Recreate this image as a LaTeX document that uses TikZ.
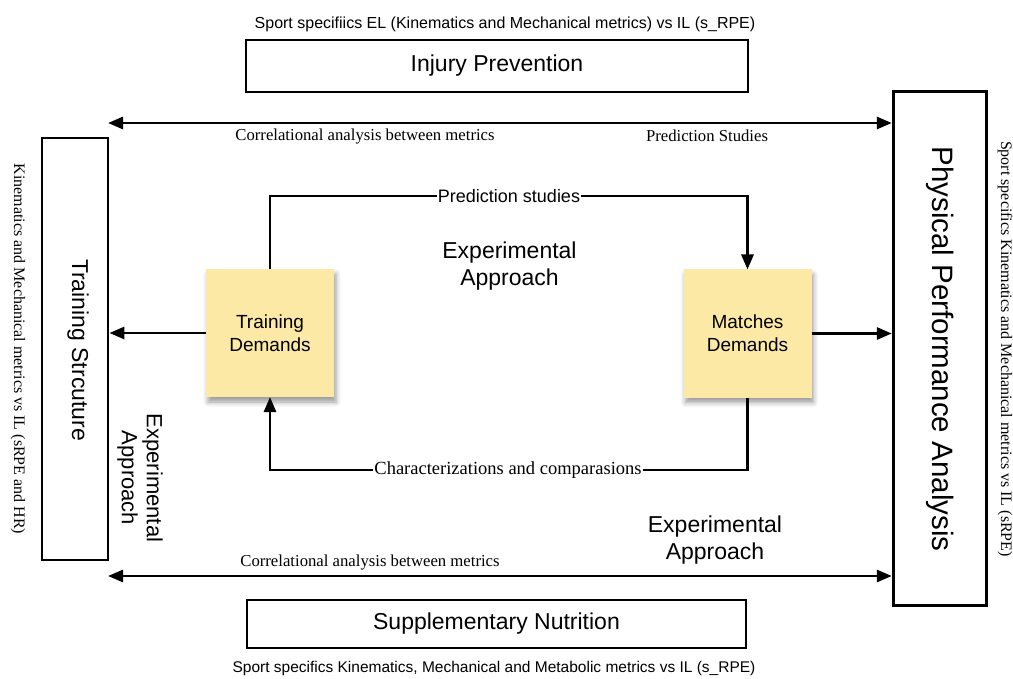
\documentclass[tikz,border=0pt]{standalone}
\usepackage{fontspec}
\setmainfont{Liberation Sans}
\newfontfamily\srf{Liberation Serif}
\usetikzlibrary{arrows.meta,shadows.blur}
\definecolor{sticky}{RGB}{252,233,166}
\newcommand{\fsz}[2]{\fontsize{#1}{#2}\selectfont}
\begin{document}
\begin{tikzpicture}[x=1pt,y=-1pt,
  every node/.style={inner sep=0pt, outer sep=0pt},
  frame/.style={draw=black, line width=2.8pt, fill=white},
  note/.style={fill=sticky, minimum width=128pt, minimum height=128pt, align=center,
    font=\fsz{19}{23},
    blur shadow={shadow xshift=2pt, shadow yshift=-5pt, shadow blur radius=5pt, shadow opacity=40}},
  conn/.style={line width=2.8pt, -{Triangle[length=15pt,width=12pt]}},
  dbl/.style={line width=2.8pt, {Triangle[length=15pt,width=12pt]}-{Triangle[length=15pt,width=12pt]}},
  serlab/.style={font=\srf\fsz{16.7}{20}},
  sanslab/.style={font=\fsz{18}{21}},
  big/.style={font=\fsz{23}{27}, align=center},
]
\useasboundingbox (0,0) rectangle (1013,679);

% top and bottom boxes
\node[font=\fsz{16}{19}] (toptxt) at (505,24) {Sport specifiics EL (Kinematics and Mechanical metrics) vs IL (s\_RPE)};
\node[frame, minimum width=502pt, minimum height=52pt, font=\fsz{23}{27}] (inj) at (497,66) {Injury Prevention};
\node[frame, minimum width=499pt, minimum height=48pt, font=\fsz{23}{27}] (sup) at (496.5,624) {Supplementary Nutrition};
\node[font=\fsz{15.5}{19}] (bottxt) at (494,668) {Sport specifics Kinematics, Mechanical and Metabolic metrics vs IL (s\_RPE)};

% side boxes
\node[frame, minimum width=66pt, minimum height=422pt] (ts) at (75,349) {};
\node[rotate=-90, font=\fsz{23}{27}] (tst) at (78,350) {Training Strcuture};
\node[rotate=-90, font=\srf\fsz{16}{19}] (lefttxt) at (18,349) {Kinematics and Mechanical metrics vs IL (sRPE and HR)};
\node[rotate=-90, font=\fsz{22}{25}, align=center] (leftexp) at (140,478) {Experimental\\Approach};

\node[frame, line width=3.4pt, minimum width=93pt, minimum height=514pt] (ppa) at (940,348.5) {};
\node[rotate=-90, font=\fsz{29.5}{33}] (ppat) at (940,349) {Physical Performance Analysis};
\node[rotate=-90, font=\srf\fsz{16}{19}] (righttxt) at (1005,349) {Sport specifics Kinematics and Mechanical metrics vs IL (sRPE)};

% long double arrows
\coordinate (tl) at (108,123);
\coordinate (bl) at (108,576);
\draw[dbl] (tl) -- ([xshift=-1.7pt]ppa.west |- tl);
\draw[dbl] (bl) -- ([xshift=-1.7pt]ppa.west |- bl);
\node[serlab] (corrtop) at (365,137) {Correlational analysis between metrics};
\node[serlab] (predtop) at (707,136) {Prediction Studies};
\node[serlab] (corrbot) at (370,563) {Correlational analysis between metrics};
\node[big] (expbot) at (715,540) {Experimental\\Approach};

% central part
\node[big] (expmid) at (509.5,266) {Experimental\\Approach};
\node[note] (td) at (270,333) {Training\\Demands};
\node[note] (md) at (747.5,333.5) {Matches\\Demands};

\draw[conn] (td.north) -- ++(0,-73) -| (md.north);
\node[sanslab, fill=white, inner xsep=1pt, inner ysep=2pt] (pred) at (509,196) {Prediction studies};
\draw[conn] (md.south) -- ++(0,72.5) -| (td.south);
\node[font=\srf\fsz{18.5}{22}, fill=white, inner xsep=1pt, inner ysep=2pt] (char) at (508,470) {Characterizations and comparasions};

\draw[conn] (td.west) -- ([xshift=1.4pt]ts.east |- td.west);
\draw[conn] (md.east) -- ([xshift=-1.7pt]ppa.west |- md.east);
\end{tikzpicture}
\end{document}
